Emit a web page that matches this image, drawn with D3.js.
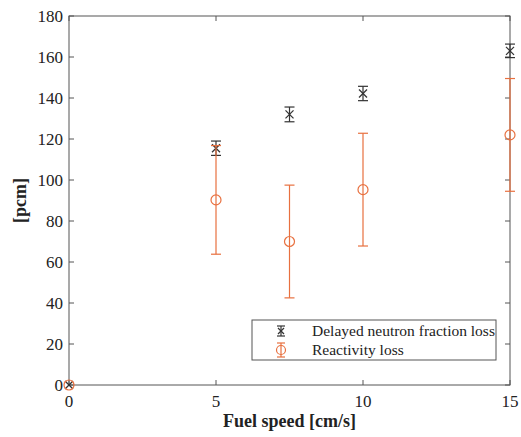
<!DOCTYPE html>
<html>
<head>
<meta charset="utf-8">
<script src="https://cdn.jsdelivr.net/npm/d3@7"></script>
<style>
  body { margin: 0; background: #fff; }
  text { font-family: "Liberation Serif", "Times New Roman", serif; }
</style>
</head>
<body>
<div id="chart"></div>
<script>
// fuel speed [cm/s]
const speeds = [0, 5, 7.5, 10, 15];
// delayed neutron fraction loss [pcm]
const dnfLoss = [0, 115.5, 132, 142.2, 163];
const dnfErr = [0, 3.5, 3.6, 3.5, 3.3];
// reactivity loss [pcm]
const rhoLoss = [0, 90.3, 70, 95.3, 122];
const rhoErr = [0, 26.5, 27.5, 27.5, 27.5];

const xTicks = [0, 5, 10, 15];
const yTicks = [0, 20, 40, 60, 80, 100, 120, 140, 160, 180];

const width = 521, height = 437;
const margin = { top: 16, right: 11, bottom: 52, left: 69 };
const black = '#333';
const orange = '#e8703f';
const axisCol = '#555';

const svg = d3.select('#chart').append('svg')
  .attr('width', width)
  .attr('height', height);

const x = d3.scaleLinear().domain([0, 15]).range([margin.left, width - margin.right]);
const y = d3.scaleLinear().domain([0, 180]).range([height - margin.bottom, margin.top]);

const tickLen = 5;

// axes box + ticks
const ax = svg.append('g');
ax.append('rect')
  .attr('x', x(0)).attr('y', y(180))
  .attr('width', x(15) - x(0)).attr('height', y(0) - y(180))
  .attr('fill', 'none').attr('stroke', axisCol).attr('stroke-width', 1);

xTicks.forEach(t => {
  ax.append('line').attr('x1', x(t)).attr('x2', x(t)).attr('y1', y(0)).attr('y2', y(0) - tickLen).attr('stroke', axisCol);
  ax.append('line').attr('x1', x(t)).attr('x2', x(t)).attr('y1', y(180)).attr('y2', y(180) + tickLen).attr('stroke', axisCol);
  ax.append('text').attr('x', x(t)).attr('y', y(0) + 22)
    .attr('text-anchor', 'middle').attr('font-size', 17).attr('fill', '#222').text(t);
});
yTicks.forEach(t => {
  ax.append('line').attr('x1', x(0)).attr('x2', x(0) + tickLen).attr('y1', y(t)).attr('y2', y(t)).attr('stroke', axisCol);
  ax.append('line').attr('x1', x(15)).attr('x2', x(15) - tickLen).attr('y1', y(t)).attr('y2', y(t)).attr('stroke', axisCol);
  ax.append('text').attr('x', x(0) - 6).attr('y', y(t) + 6)
    .attr('text-anchor', 'end').attr('font-size', 17).attr('fill', '#222').text(t);
});

// axis labels
svg.append('text')
  .attr('x', (x(0) + x(15)) / 2).attr('y', 427)
  .attr('text-anchor', 'middle').attr('font-size', 18).attr('font-weight', 'bold').attr('fill', '#222')
  .text('Fuel speed [cm/s]');
svg.append('text')
  .attr('transform', 'translate(26,' + ((y(0) + y(180)) / 2) + ') rotate(-90)')
  .attr('text-anchor', 'middle').attr('font-size', 18).attr('font-weight', 'bold').attr('fill', '#222')
  .text('[pcm]');

const capW = 5;

function errorBars(vals, errs, color) {
  const g = svg.append('g').attr('stroke', color).attr('stroke-width', 1.2).attr('fill', 'none');
  speeds.forEach((s, i) => {
    if (errs[i] === 0) return;
    const cx = x(s), lo = y(vals[i] - errs[i]), hi = y(vals[i] + errs[i]);
    g.append('line').attr('x1', cx).attr('x2', cx).attr('y1', lo).attr('y2', hi);
    g.append('line').attr('x1', cx - capW).attr('x2', cx + capW).attr('y1', lo).attr('y2', lo);
    g.append('line').attr('x1', cx - capW).attr('x2', cx + capW).attr('y1', hi).attr('y2', hi);
  });
  return g;
}

// delayed neutron fraction loss
errorBars(dnfLoss, dnfErr, black);
const gx = svg.append('g').attr('stroke', black).attr('stroke-width', 1.2);
speeds.forEach((s, i) => {
  const cx = x(s), cy = y(dnfLoss[i]), r = 4;
  gx.append('line').attr('x1', cx - r).attr('x2', cx + r).attr('y1', cy - r).attr('y2', cy + r);
  gx.append('line').attr('x1', cx - r).attr('x2', cx + r).attr('y1', cy + r).attr('y2', cy - r);
});

// reactivity loss (drawn after so it sits on top like the original)
errorBars(rhoLoss, rhoErr, orange);
svg.append('g').selectAll('circle')
  .data(speeds)
  .enter().append('circle')
  .attr('cx', d => x(d))
  .attr('cy', (d, i) => y(rhoLoss[i]))
  .attr('r', 5)
  .attr('fill', 'none')
  .attr('stroke', orange)
  .attr('stroke-width', 1.2);

// legend
const lg = svg.append('g');
lg.append('rect').attr('x', 252).attr('y', 320).attr('width', 244).attr('height', 40)
  .attr('fill', '#fff').attr('stroke', axisCol).attr('stroke-width', 1);

const l1 = lg.append('g').attr('stroke', black).attr('stroke-width', 1.2);
const lx = 281, ly1 = 331, ly2 = 350;
l1.append('line').attr('x1', lx).attr('x2', lx).attr('y1', ly1 - 5).attr('y2', ly1 + 5);
l1.append('line').attr('x1', lx - 4).attr('x2', lx + 4).attr('y1', ly1 - 5).attr('y2', ly1 - 5);
l1.append('line').attr('x1', lx - 4).attr('x2', lx + 4).attr('y1', ly1 + 5).attr('y2', ly1 + 5);
l1.append('line').attr('x1', lx - 3).attr('x2', lx + 3).attr('y1', ly1 - 3).attr('y2', ly1 + 3);
l1.append('line').attr('x1', lx - 3).attr('x2', lx + 3).attr('y1', ly1 + 3).attr('y2', ly1 - 3);

const l2 = lg.append('g').attr('stroke', orange).attr('stroke-width', 1.2).attr('fill', 'none');
l2.append('line').attr('x1', lx).attr('x2', lx).attr('y1', ly2 - 7).attr('y2', ly2 + 7);
l2.append('line').attr('x1', lx - 4).attr('x2', lx + 4).attr('y1', ly2 - 7).attr('y2', ly2 - 7);
l2.append('line').attr('x1', lx - 4).attr('x2', lx + 4).attr('y1', ly2 + 7).attr('y2', ly2 + 7);
l2.append('circle').attr('cx', lx).attr('cy', ly2).attr('r', 4.5);

lg.append('text').attr('x', 312).attr('y', ly1 + 5).attr('font-size', 15.5).attr('fill', '#222')
  .text('Delayed neutron fraction loss');
lg.append('text').attr('x', 312).attr('y', ly2 + 5).attr('font-size', 15.5).attr('fill', '#222')
  .text('Reactivity loss');
</script>
</body>
</html>
